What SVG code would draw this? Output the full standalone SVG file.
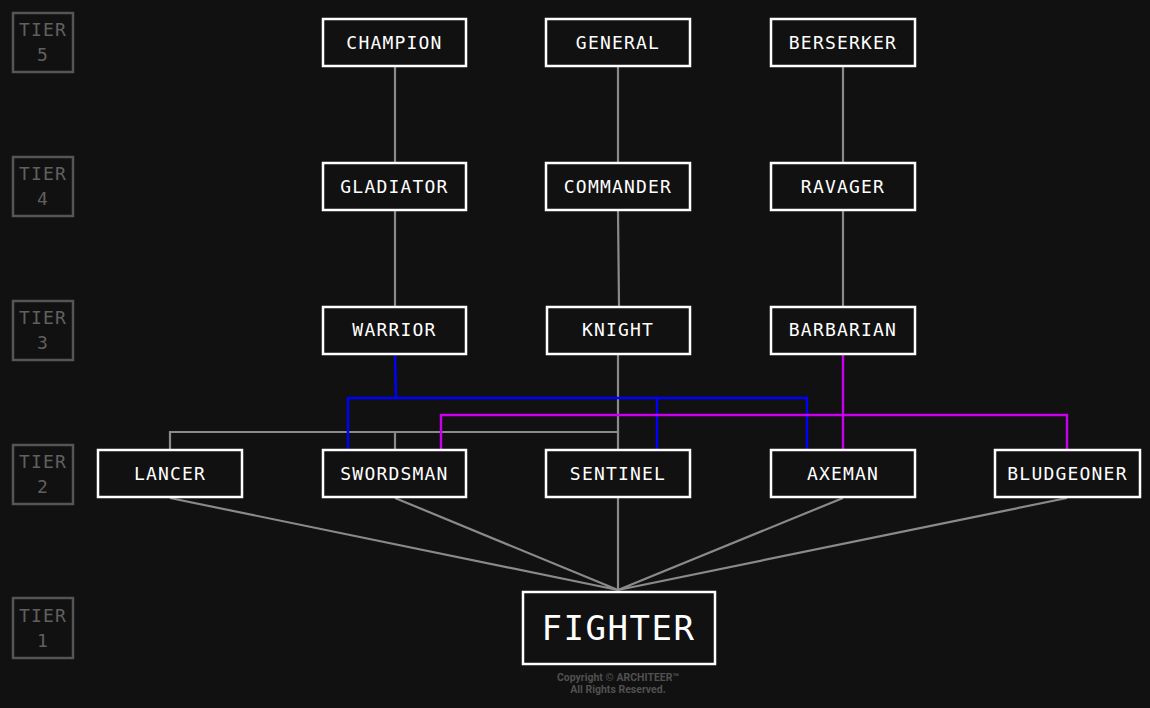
<svg xmlns="http://www.w3.org/2000/svg" width="1150" height="708" viewBox="0 0 1150 708">
<style>
.tier rect{fill:none;stroke:#555;stroke-width:2.5}
.tier text{font-family:"DejaVu Sans Mono",monospace;font-size:18px;fill:#606060;text-anchor:middle;letter-spacing:1.2px}
.node rect{fill:#111;stroke:#fff;stroke-width:2.5}
.node text{font-family:"DejaVu Sans Mono",monospace;font-size:18px;fill:#fff;text-anchor:middle;letter-spacing:1.2px}
.g{stroke:#8a8a8a;stroke-width:2.2;fill:none}
.b{stroke:#0000ff;stroke-width:2.4;fill:none}
.m{stroke:#c800ee;stroke-width:2.4;fill:none}
</style>
<rect width="1150" height="708" fill="#111"/>
<g class="tier" id="tiers">
<g id="tier5"><rect x="13" y="13" width="60" height="59"/><text x="43" y="36">TIER</text><text x="43" y="61">5</text></g>
<g id="tier4"><rect x="13" y="157" width="60" height="59"/><text x="43" y="180">TIER</text><text x="43" y="205">4</text></g>
<g id="tier3"><rect x="13" y="301" width="60" height="59"/><text x="43" y="324">TIER</text><text x="43" y="349">3</text></g>
<g id="tier2"><rect x="13" y="445" width="60" height="59"/><text x="43" y="468">TIER</text><text x="43" y="493">2</text></g>
<g id="tier1"><rect x="13" y="598" width="60" height="60"/><text x="43" y="622">TIER</text><text x="43" y="647">1</text></g>
</g>
<g id="connectors">
<path class="g" d="M395 67V163M395 211V306M618 67V163M618 211L619 306M843 67V163M843 211V306"/>
<path class="g" d="M618 354V450M170 450V432H618M395 432V450"/>
<path class="g" d="M618 498V590M170 498L618 590M395 498L618 590M843 498L618 590M1067 498L618 590"/>
<path class="b" d="M395 354L396 398M348 450V398H807V450M657 398V450"/>
<path class="m" d="M843 354V450M441 450V415H1067V450"/>
</g>
<g class="node">
<g id="champion"><rect x="323" y="19" width="143" height="47"/><text x="394.5" y="49">CHAMPION</text></g>
<g id="general"><rect x="546" y="19" width="144" height="47"/><text x="618" y="49">GENERAL</text></g>
<g id="berserker"><rect x="771" y="19" width="144" height="47"/><text x="843" y="49">BERSERKER</text></g>
<g id="gladiator"><rect x="323" y="163" width="143" height="47"/><text x="394.5" y="193">GLADIATOR</text></g>
<g id="commander"><rect x="546" y="163" width="144" height="47"/><text x="618" y="193">COMMANDER</text></g>
<g id="ravager"><rect x="771" y="163" width="144" height="47"/><text x="843" y="193">RAVAGER</text></g>
<g id="warrior"><rect x="323" y="307" width="143" height="47"/><text x="394.5" y="336">WARRIOR</text></g>
<g id="knight"><rect x="547" y="307" width="143" height="47"/><text x="618" y="336">KNIGHT</text></g>
<g id="barbarian"><rect x="771" y="307" width="144" height="47"/><text x="843" y="336">BARBARIAN</text></g>
<g id="lancer"><rect x="98" y="450" width="144" height="47"/><text x="170" y="480">LANCER</text></g>
<g id="swordsman"><rect x="323" y="450" width="143" height="47"/><text x="394.5" y="480">SWORDSMAN</text></g>
<g id="sentinel"><rect x="546" y="450" width="144" height="47"/><text x="618" y="480">SENTINEL</text></g>
<g id="axeman"><rect x="771" y="450" width="144" height="47"/><text x="843" y="480">AXEMAN</text></g>
<g id="bludgeoner"><rect x="995" y="450" width="145" height="47"/><text x="1067.5" y="480">BLUDGEONER</text></g>
<g id="fighter"><rect x="523" y="592" width="192" height="72" stroke-width="5"/><text x="618.5" y="640" style="font-size:34px;letter-spacing:1.5px">FIGHTER</text></g>
</g>
<g id="copyright" font-family="Roboto,'Liberation Sans',sans-serif" font-size="10.5" font-weight="bold" fill="#505050" text-anchor="middle">
<text x="618" y="681">Copyright © ARCHITEER™</text>
<text x="618" y="693">All Rights Reserved.</text>
</g>
</svg>
